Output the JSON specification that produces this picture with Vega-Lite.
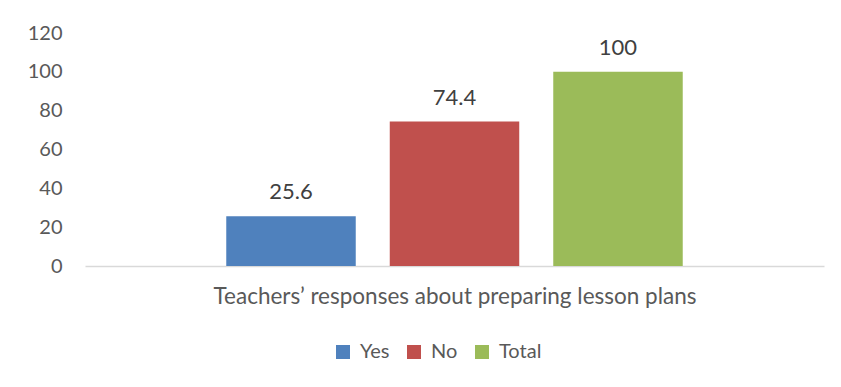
{
  "$schema": "https://vega.github.io/schema/vega-lite/v6.json",
  "width": 739,
  "height": 233,
  "autosize": {"type": "none"},
  "padding": {"left": 85, "top": 33, "right": 17, "bottom": 121},
  "background": "white",
  "config": {
    "view": {"stroke": null},
    "font": "Lato",
    "axis": {"labelFont": "Lato", "titleFont": "Lato"},
    "legend": {"labelFont": "Lato"}
  },
  "data": {
    "values": [
      {"category": "Teachers’ responses about preparing lesson plans", "series": "Yes", "value": 25.6},
      {"category": "Teachers’ responses about preparing lesson plans", "series": "No", "value": 74.4},
      {"category": "Teachers’ responses about preparing lesson plans", "series": "Total", "value": 100}
    ]
  },
  "encoding": {
    "x": {
      "field": "series",
      "type": "nominal",
      "sort": ["Yes", "No", "Total"],
      "scale": {"paddingInner": 0.208, "paddingOuter": 0.864},
      "axis": {
        "labels": false,
        "ticks": false,
        "domainColor": "#d9d9d9",
        "domainWidth": 1.5,
        "title": "Teachers’ responses about preparing lesson plans",
        "titleFontSize": 22.5,
        "titleFontWeight": "normal",
        "titleColor": "#595959",
        "titlePadding": 19
      }
    },
    "y": {
      "field": "value",
      "type": "quantitative",
      "scale": {"domain": [0, 120]},
      "axis": {
        "values": [0, 20, 40, 60, 80, 100, 120],
        "grid": false,
        "domain": false,
        "ticks": false,
        "labelFontSize": 20,
        "labelColor": "#595959",
        "labelPadding": 23,
        "title": null
      }
    }
  },
  "layer": [
    {
      "mark": {"type": "bar"},
      "encoding": {
        "color": {
          "field": "series",
          "type": "nominal",
          "sort": ["Yes", "No", "Total"],
          "scale": {"domain": ["Yes", "No", "Total"], "range": ["#4f81bd", "#c0504d", "#9bbb59"]},
          "legend": {
            "orient": "none",
            "legendX": 248,
            "legendY": 309,
            "direction": "horizontal",
            "title": null,
            "symbolType": "square",
            "symbolSize": 196,
            "symbolStrokeWidth": 0,
            "labelFontSize": 20,
            "labelColor": "#595959",
            "columnPadding": 14,
            "labelOffset": 7
          }
        }
      }
    },
    {
      "mark": {"type": "text", "baseline": "alphabetic", "dy": -17, "fontSize": 22, "color": "#404040"},
      "encoding": {"text": {"field": "value", "type": "quantitative"}}
    }
  ]
}
